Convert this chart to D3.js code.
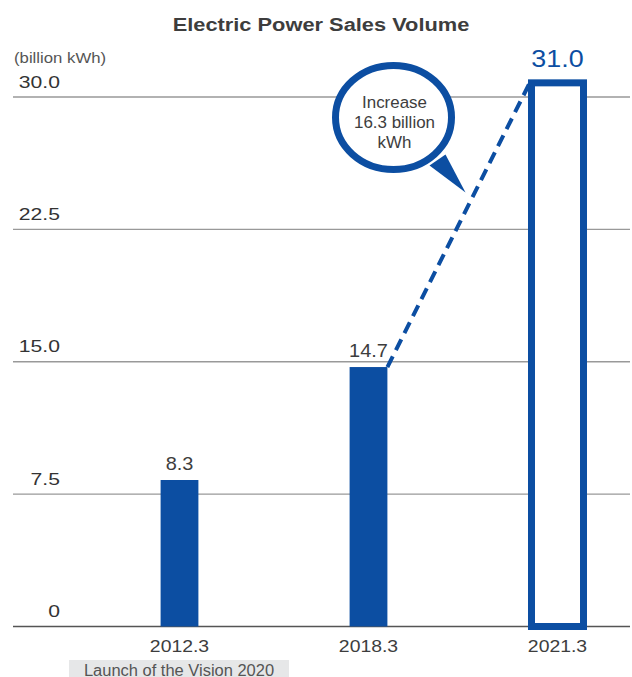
<!DOCTYPE html>
<html><head><meta charset="utf-8">
<script src="https://cdn.jsdelivr.net/npm/d3@7"></script>
<style>
html,body{margin:0;padding:0;background:#fff;}
svg{display:block;font-family:"Liberation Sans",Arial,sans-serif;}
</style></head>
<body>
<svg id="c" width="632" height="677"></svg>
<script>
const categories = ["2012.3", "2018.3", "2021.3"];
const values = [8.3, 14.7, 31.0];
const valueLabels = ["8.3", "14.7", "31.0"];
const tickValues = [0, 7.5, 15, 22.5, 30];
const tickLabels = ["0", "7.5", "15.0", "22.5", "30.0"];
const title = "Electric Power Sales Volume";
const unitLabel = "(billion kWh)";
const noteLabel = "Launch of the Vision 2020";
const bubbleLines = ["Increase", "16.3 billion", "kWh"];

const blue = "#0c4ea2";
const svg = d3.select("#c");

const x = d3.scaleBand().domain(categories).range([85, 652]).paddingInner(0.8).paddingOuter(0.4);
const y = d3.scaleLinear().domain([0, 30]).range([626.5, 97]);
const cx = c => x(c) + x.bandwidth() / 2;

// text with a slight horizontal stretch (reference typeface is wider)
function label(px, py, str, o) {
  const g = svg.append("g").attr("transform", `translate(${px},${py}) scale(${o.sx || 1},1)`);
  return g.append("text").attr("x", 0).attr("y", 0)
    .attr("text-anchor", o.anchor || "start")
    .attr("font-size", o.size).attr("font-weight", o.weight || "normal")
    .attr("fill", o.fill || "#3d3d3d").text(str);
}

// title
label(321, 31, title, {anchor: "middle", size: 18.5, weight: "bold", sx: 1.18, fill: "#3d3d3d"});
label(14, 63, unitLabel, {size: 15.5, sx: 1.08, fill: "#555"});

// grid
svg.selectAll("line.grid").data(tickValues).join("line")
  .attr("x1", 13).attr("x2", 630).attr("y1", d => y(d)).attr("y2", d => y(d))
  .attr("stroke", d => d === 0 ? "#555" : "#999").attr("stroke-width", 1.3);
tickValues.forEach((d, i) => label(60, y(d) - 9.5, tickLabels[i], {anchor: "end", size: 16.8, sx: 1.26, fill: "#333"}));

// bars
const data = categories.map((c, i) => ({c, v: values[i], l: valueLabels[i], i}));
const filled = data.filter(d => d.i < 2);
svg.selectAll("rect.bar").data(filled).join("rect")
  .attr("x", d => x(d.c)).attr("width", x.bandwidth())
  .attr("y", d => y(d.v)).attr("height", d => y(0) - y(d.v)).attr("fill", blue);
const last = data[2];
const ow = 52;
svg.append("rect").attr("x", cx(last.c) - ow / 2).attr("width", ow)
  .attr("y", y(last.v) + 3.5).attr("height", y(0) - y(last.v) - 3.5)
  .attr("fill", "#fff").attr("stroke", blue).attr("stroke-width", 7);

// value labels
filled.forEach(d => label(cx(d.c), y(d.v) - 10, d.l, {anchor: "middle", size: 17.5, sx: 1.14}));
label(cx(last.c), y(last.v) - 12.5, last.l, {anchor: "middle", size: 24, sx: 1.12, fill: blue});

// dashed connector
svg.append("line")
  .attr("x1", x(data[1].c) + x.bandwidth()).attr("y1", y(data[1].v))
  .attr("x2", cx(last.c) - ow / 2 - 1).attr("y2", y(last.v) + 2)
  .attr("stroke", blue).attr("stroke-width", 4).attr("stroke-dasharray", "12,7");

// bubble
const bx = 393.5, by = 117.5;
svg.append("path").attr("d", `M${bx+36},${by+48} L${bx+52},${by+37} L${bx+72},${by+75} Z`).attr("fill", blue);
svg.append("ellipse").attr("cx", bx).attr("cy", by).attr("rx", 58).attr("ry", 52)
  .attr("fill", "#fff").attr("stroke", blue).attr("stroke-width", 7);
bubbleLines.forEach((d, i) => label(bx + 1, 108.3 + i * 20, d, {anchor: "middle", size: 16.3, sx: 1.04}));

// x labels
categories.forEach(d => label(cx(d), 651.5, d, {anchor: "middle", size: 16.3, sx: 1.19}));
svg.append("rect").attr("x", 69).attr("y", 660).attr("width", 220).attr("height", 20).attr("fill", "#e6e7e8");
label(179, 675.5, noteLabel, {anchor: "middle", size: 16, sx: 1.03, fill: "#555"});
</script>
</body></html>
